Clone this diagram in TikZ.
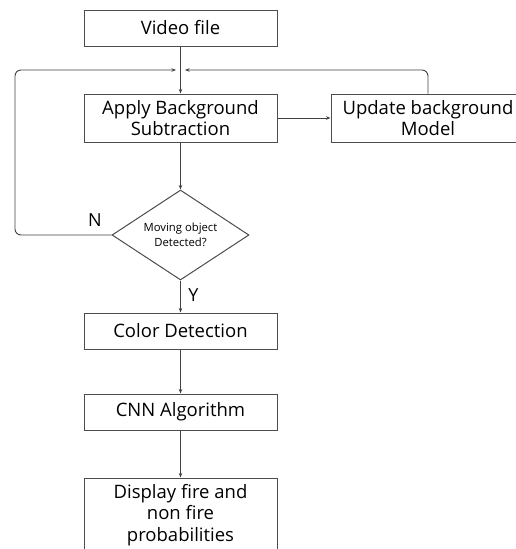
\documentclass[tikz,border=0pt]{standalone}
\usepackage{fontspec}
\setmainfont{Open Sans}
\usetikzlibrary{shapes.geometric,arrows.meta}

\tikzset{
  box/.style={rectangle, draw=black!70, line width=1pt, minimum width=193pt,
    align=center, font=\fontsize{18.5}{21.5}\selectfont, inner sep=0pt},
  decision/.style={diamond, draw=black!70, line width=1pt, aspect=1.52,
    minimum width=137pt, minimum height=90pt, inner sep=0pt, align=center,
    font=\fontsize{11.3}{15}\selectfont},
  flow/.style={draw=black!75, line width=0.9pt, -{Stealth[length=4.5pt,width=3.5pt]}},
  tag/.style={font=\fontsize{18}{20}\selectfont}
}

\begin{document}
\begin{tikzpicture}[x=1pt,y=-1pt]
      \useasboundingbox (0,0) rectangle (515,549);

      \begin{scope}
        \node[box, minimum height=36pt] (video)   at (180.5,28)  {Video file};
        \node[box, minimum height=48pt] (apply)   at (180.5,118) {Apply Background\\Subtraction};
        \node[box, minimum height=48pt, minimum width=194pt] (update) at (428,118) {Update background\\Model};
        \node[decision] (moving) at (180.5,235) {Moving object\\Detected?};
        \node[box, minimum height=36pt] (color)   at (180.5,331) {Color Detection};
        \node[box, minimum height=36pt] (cnn)     at (180.5,412) {CNN Algorithm};
        \node[box, minimum height=74pt] (display) at (180.5,515) {Display fire and\\non fire\\probabilities};
      \end{scope}

      \coordinate (joinl) at (176,70);
      \coordinate (joinr) at (185,70);
      \coordinate (loopl) at (15,235);

      \begin{scope}[every edge/.style={flow}]
        \path (video)  edge (apply);
        \path (apply)  edge (update);
        \path (apply)  edge (moving);
        \path (moving) edge node[tag, right=4pt, pos=0.45] {Y} (color);
        \path (color)  edge (cnn);
        \path (cnn)    edge (display);
      \end{scope}

      \draw[flow, rounded corners=6pt] (moving.west) -- (loopl) |- (joinl);
      \draw[flow, rounded corners=6pt] (update.north) |- (joinr);
      \node[tag] (no) at (95,220) {N};

    \end{tikzpicture}
\end{document}
